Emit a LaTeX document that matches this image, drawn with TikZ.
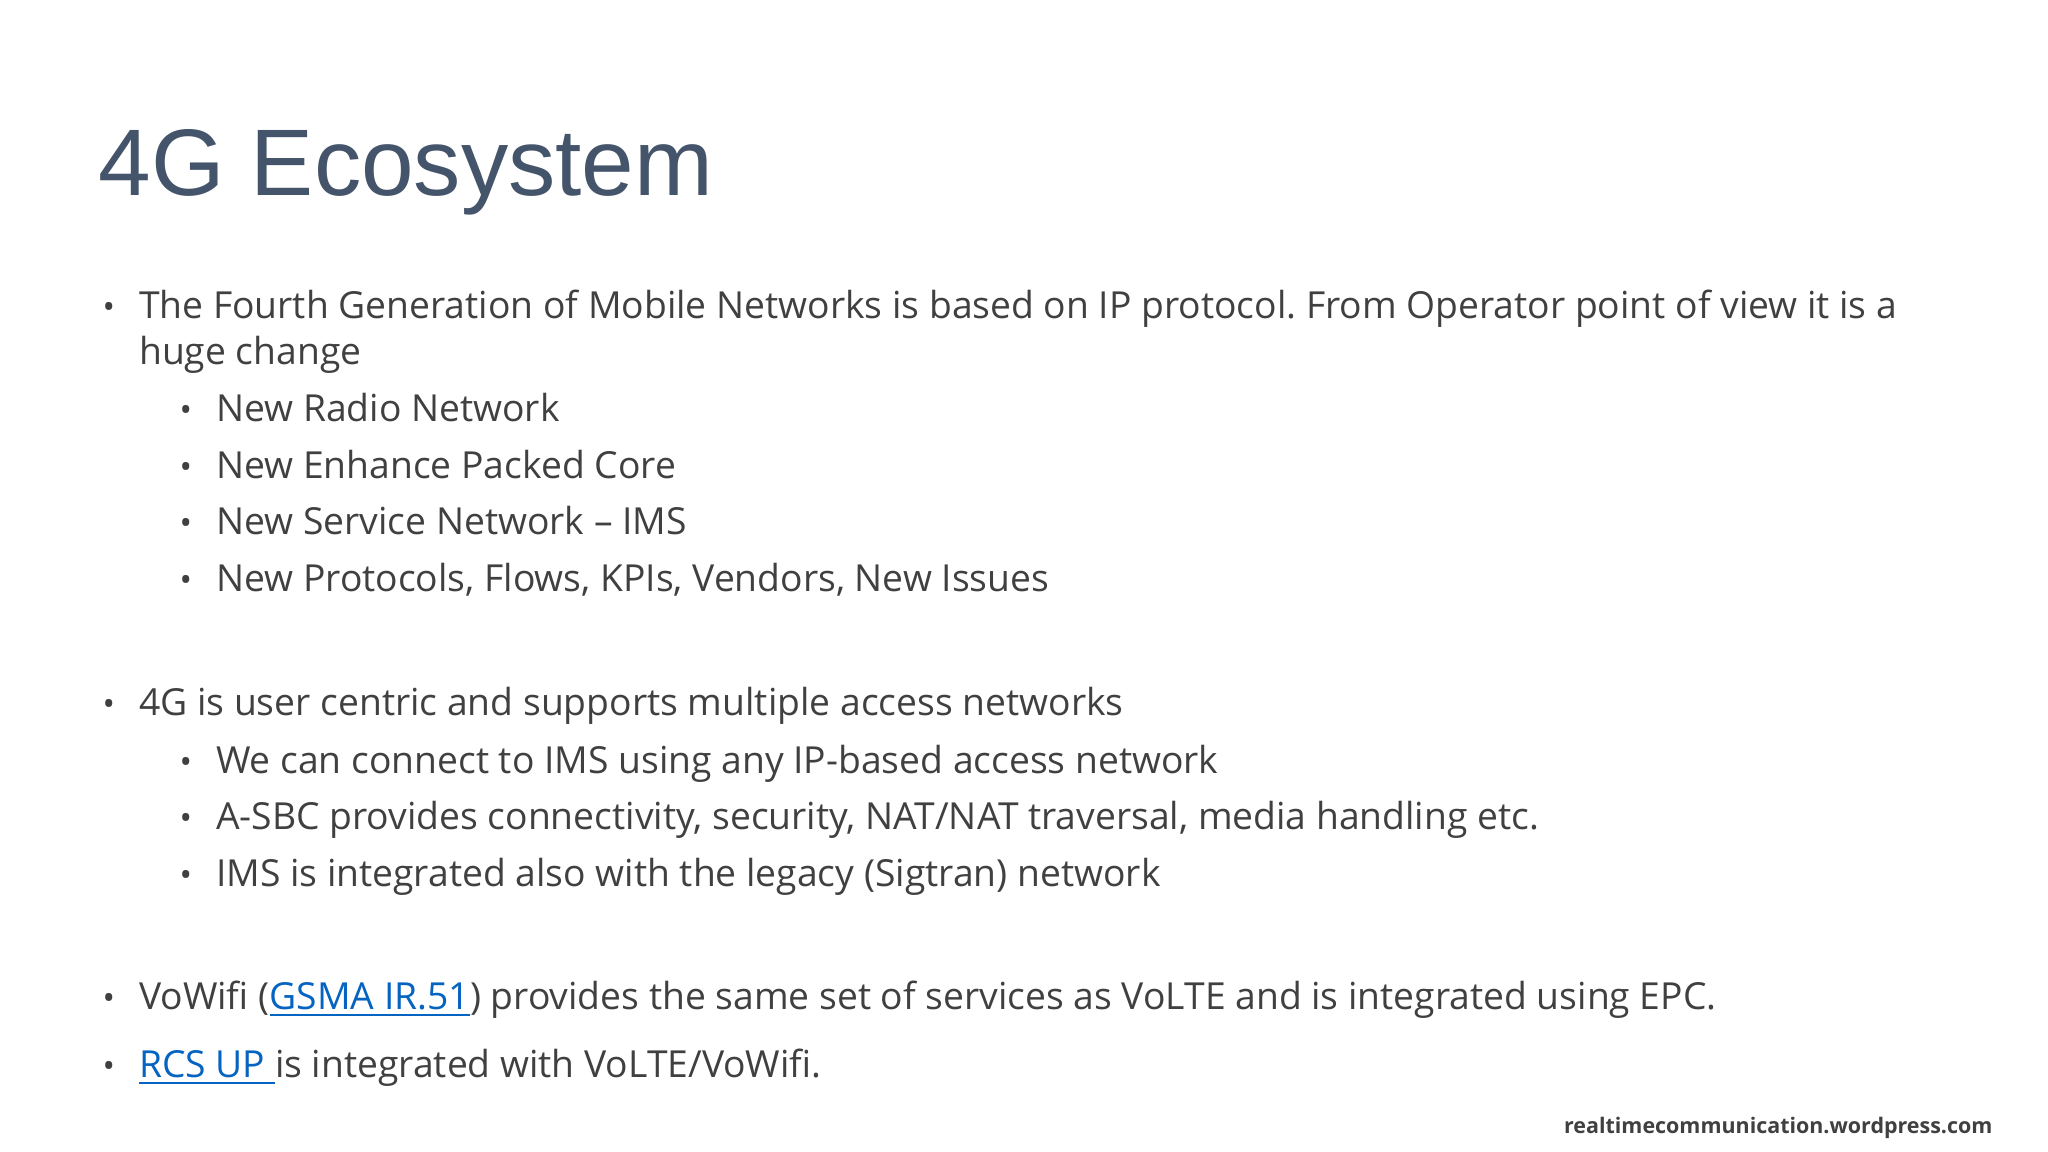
\documentclass[tikz,border=0pt]{standalone}
\usepackage{fontspec}
\setmainfont{Open Sans}
\newfontfamily\titlefont{Liberation Sans}
\frenchspacing
\definecolor{titlec}{HTML}{44546A}
\definecolor{bodyc}{HTML}{404040}
\definecolor{linkc}{HTML}{0563C1}
\newcommand{\lnk}[1]{\textcolor{linkc}{\underline{#1}}}
\tikzset{
 body/.style={anchor=base west,inner sep=0pt,text=bodyc,font=\fontsize{10.6pt}{12pt}\selectfont},
 bul/.style={anchor=base west,inner sep=0pt,text=bodyc,font=\fontsize{9.4pt}{12pt}\selectfont},
}
\begin{document}
\begin{tikzpicture}[x=0.013061cm,y=-0.013061cm]
\useasboundingbox[fill=white] (0,0) rectangle (1568,882);
\node[anchor=base west,inner sep=0pt,text=titlec,font=\titlefont\fontsize{26.9pt}{30pt}\selectfont] (title) at (75,150) {4G Ecosystem};
\foreach \n/\yy in {b1/244,b5/548,b9/773,b10/825}{\node[bul] (\n bullet) at (78,\yy) {•};}
\foreach \n/\yy in {s1/323,s2/366,s3/409,s4/453,s5/592,s6/635,s7/679}{\node[bul] (\n bullet) at (137,\yy) {•};}
\node[body] (t1) at (106,244) {The Fourth Generation of Mobile Networks is based on IP protocol. From Operator point of view it is a};
\node[body] (t1b) at (106,279) {huge change};
\node[body] (t2) at (165,323) {New Radio Network};
\node[body] (t3) at (165,366) {New Enhance Packed Core};
\node[body] (t4) at (165,409) {New Service Network – IMS};
\node[body] (t5) at (165,453) {New Protocols, Flows, KPIs, Vendors, New Issues};
\node[body] (t6) at (106,548) {4G is user centric and supports multiple access networks};
\node[body] (t7) at (165,592) {We can connect to IMS using any IP-based access network};
\node[body] (t8) at (165,635) {A-SBC provides connectivity, security, NAT/NAT traversal, media handling etc.};
\node[body] (t9) at (165,679) {IMS is integrated also with the legacy (Sigtran) network};
\node[body] (t10) at (106,773) {VoWifi (\lnk{GSMA IR.51}) provides the same set of services as VoLTE and is integrated using EPC.};
\node[body] (t11) at (106,825) {\lnk{RCS UP\ }is integrated with VoLTE/VoWifi.};
\node[anchor=base east,inner sep=0pt,text=bodyc,font=\bfseries\fontsize{6.1pt}{8pt}\selectfont] (foot) at (1526,868) {realtimecommunication.wordpress.com};
\end{tikzpicture}
\end{document}
